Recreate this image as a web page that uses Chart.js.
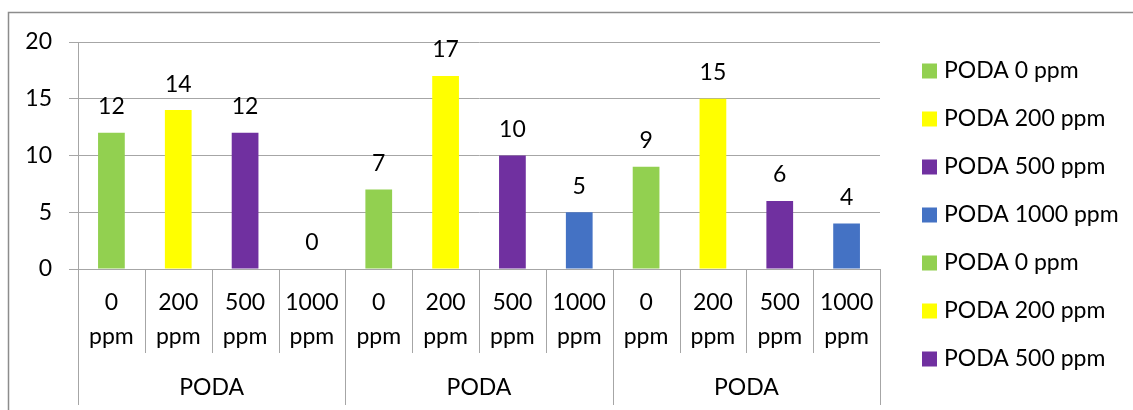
<!DOCTYPE html>
<html>
<head>
<meta charset="utf-8">
<style>
  html, body { margin: 0; padding: 0; background: #ffffff; }
  #wrap { width: 1133px; height: 410px; position: relative; }
</style>
<script src="https://cdn.jsdelivr.net/npm/chart.js@4.4.0/dist/chart.umd.min.js"></script>
</head>
<body>
<div id="wrap"><canvas id="chart" width="1133" height="410"></canvas></div>
<script>
// Concentrations on the inner axis row, one group label per four bars
const doseLabels = [["0", "ppm"], ["200", "ppm"], ["500", "ppm"], ["1000", "ppm"],
                    ["0", "ppm"], ["200", "ppm"], ["500", "ppm"], ["1000", "ppm"],
                    ["0", "ppm"], ["200", "ppm"], ["500", "ppm"], ["1000", "ppm"]];
const groupLabels = ["PODA", "PODA", "PODA"];
const groupSize = 4;
const values = [12, 14, 12, 0, 7, 17, 10, 5, 9, 15, 6, 4];
const barColors = ["#92D050", "#FFFF00", "#7030A0", "#4472C4",
                   "#92D050", "#FFFF00", "#7030A0", "#4472C4",
                   "#92D050", "#FFFF00", "#7030A0", "#4472C4"];
const legendLabels = ["PODA 0 ppm", "PODA 200 ppm", "PODA 500 ppm", "PODA 1000 ppm",
                      "PODA 0 ppm", "PODA 200 ppm", "PODA 500 ppm"];
const yTicks = [0, 5, 10, 15, 20];

const FONT = "Lato, 'Open Sans', sans-serif";
const FS = 23;
const GRID = "#A6A6A6";

// Outer frame of the chart object
const framePlugin = {
  id: "frame",
  beforeDraw(chart) {
    const ctx = chart.ctx;
    ctx.save();
    ctx.strokeStyle = "#8C8C8C";
    ctx.lineWidth = 1.5;
    ctx.beginPath();
    ctx.moveTo(8.5, chart.height + 5);
    ctx.lineTo(8.5, 12.5);
    ctx.lineTo(chart.width + 5, 12.5);
    ctx.stroke();
    ctx.restore();
  }
};

// Category separators and the outer group row beneath the x axis
const groupAxisPlugin = {
  id: "groupAxis",
  afterDraw(chart) {
    const x = chart.scales.x;
    const ctx = chart.ctx;
    const top = chart.chartArea.bottom;
    const n = doseLabels.length;
    const step = (x.getPixelForValue(1) - x.getPixelForValue(0));
    ctx.save();
    ctx.strokeStyle = GRID;
    ctx.lineWidth = 1;
    for (let i = 0; i <= n; i++) {
      const px = Math.round(x.getPixelForValue(i) - step / 2) + 0.5;
      const isGroupEdge = i % groupSize === 0;
      ctx.beginPath();
      ctx.moveTo(px, top);
      ctx.lineTo(px, isGroupEdge ? top + 136 : top + 84);
      ctx.stroke();
    }
    ctx.fillStyle = "#000000";
    ctx.font = FS + "px " + FONT;
    ctx.textAlign = "center";
    ctx.textBaseline = "middle";
    groupLabels.forEach((g, gi) => {
      const a = x.getPixelForValue(gi * groupSize) - step / 2;
      const b = x.getPixelForValue(gi * groupSize + groupSize - 1) + step / 2;
      ctx.fillText(g, (a + b) / 2, top + 119);
    });
    ctx.restore();
  }
};

// Value printed above every bar
const valueLabelPlugin = {
  id: "valueLabels",
  afterDatasetsDraw(chart) {
    const ctx = chart.ctx;
    const meta = chart.getDatasetMeta(0);
    ctx.save();
    ctx.fillStyle = "#000000";
    ctx.font = FS + "px " + FONT;
    ctx.textAlign = "center";
    ctx.textBaseline = "middle";
    meta.data.forEach((bar, i) => {
      ctx.fillText(String(values[i]), bar.x, bar.y - 26);
    });
    ctx.restore();
  }
};

// Legend column on the right
const sideLegendPlugin = {
  id: "sideLegend",
  afterDraw(chart) {
    const ctx = chart.ctx;
    const left = chart.chartArea.right + 42;
    ctx.save();
    ctx.font = FS + "px " + FONT;
    ctx.textAlign = "left";
    ctx.textBaseline = "middle";
    legendLabels.forEach((txt, i) => {
      const cy = 71 + i * 48;
      ctx.fillStyle = barColors[i];
      ctx.fillRect(left, cy - 7.5, 15, 15);
      ctx.fillStyle = "#000000";
      ctx.fillText(txt, left + 22, cy);
    });
    ctx.restore();
  }
};

new Chart(document.getElementById("chart"), {
  type: "bar",
  data: {
    labels: doseLabels,
    datasets: [{
      data: values,
      backgroundColor: barColors,
      barPercentage: 0.8,
      categoryPercentage: 0.5
    }]
  },
  options: {
    responsive: false,
    animation: false,
    layout: { padding: { left: 0, top: 42, right: 253, bottom: 0 } },
    plugins: {
      legend: { display: false },
      tooltip: { enabled: false }
    },
    scales: {
      x: {
        offset: true,
        grid: { display: false, drawTicks: false },
        border: { display: false },
        ticks: {
          color: "#000000",
          font: { family: FONT, size: FS, lineHeight: 1.48 },
          padding: 17,
          maxRotation: 0,
          autoSkip: false
        },
        afterFit(scale) { scale.height = 410 - 269; }
      },
      y: {
        min: 0,
        max: 20,
        afterBuildTicks(scale) { scale.ticks = yTicks.map(v => ({ value: v })); },
        grid: { color: GRID, lineWidth: 1, tickLength: 9, drawTicks: true },
        border: { display: true, color: GRID, width: 1 },
        ticks: {
          color: "#000000",
          font: { family: FONT, size: FS },
          padding: 17
        },
        afterFit(scale) { scale.width = 78; }
      }
    }
  },
  plugins: [framePlugin, groupAxisPlugin, valueLabelPlugin, sideLegendPlugin]
});
</script>
</body>
</html>
